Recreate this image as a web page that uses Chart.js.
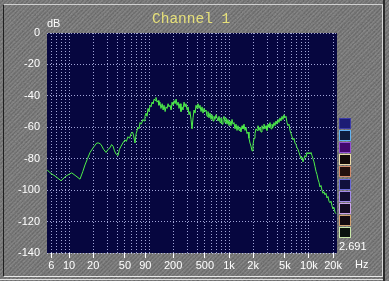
<!DOCTYPE html>
<html>
<head>
<meta charset="utf-8">
<script src="https://cdn.jsdelivr.net/npm/chart.js@4.4.0/dist/chart.umd.min.js"></script>
<style>
  html, body { margin: 0; padding: 0; }
  body {
    width: 389px; height: 281px; overflow: hidden; position: relative;
    background-color: #6b6b6b;
    background-image:
      url("data:image/svg+xml,%3Csvg xmlns='http://www.w3.org/2000/svg' width='389' height='281'%3E%3Cfilter id='n'%3E%3CfeTurbulence type='fractalNoise' baseFrequency='0.85' numOctaves='2' stitchTiles='stitch'/%3E%3CfeColorMatrix type='saturate' values='0'/%3E%3C/filter%3E%3Crect width='100%25' height='100%25' filter='url(%23n)' opacity='0.28'/%3E%3C/svg%3E"),
      repeating-linear-gradient(135deg, rgba(255,255,255,0.10) 0px, rgba(255,255,255,0.10) 1px, rgba(0,0,0,0.08) 2px, rgba(0,0,0,0) 3px),
      repeating-linear-gradient(45deg, rgba(0,0,0,0.05) 0px, rgba(0,0,0,0.05) 1px, rgba(255,255,255,0) 2px, rgba(255,255,255,0) 4px);
    font-family: "Liberation Sans", Arial, sans-serif;
  }
  #wrap { position: absolute; left: 0; top: 0; width: 389px; height: 281px; }
  .frame { position: absolute; left: 3px; top: 4px; width: 378px; height: 271px;
    border-top: 1px solid #cfcfcf; border-left: 1px solid #1e1e1e;
    border-right: 1px solid #d8d8d8; border-bottom: 1px solid #e8e8e8; pointer-events: none; }
  .line-b { position: absolute; left: 0; top: 279px; width: 384px; height: 1px; background: #e0e0e0; }
  .line-r { position: absolute; left: 383px; top: 0; width: 2px; height: 281px; background: #2a2a2a; }
  .label { position: absolute; color: #ffffff; font-size: 11px; line-height: 12px; white-space: nowrap; }
  #title { position: absolute; left: 152px; top: 11px; color: #e6e07a;
    font-family: "Liberation Mono", "DejaVu Sans Mono", monospace; font-size: 14.5px; line-height: 16px; }
  .box { position: absolute; left: 339px; width: 10px; height: 9px; border: 1px solid; }
</style>
</head>
<body>
<div id="wrap"><canvas id="spectrum" width="389" height="281"></canvas></div>
<div class="frame"></div>
<div class="line-b"></div>
<div class="line-r"></div>
<div id="title">Channel 1</div>
<div class="label" style="left:47px; top:17px;">dB</div>
<div class="label" style="left:355px; top:258px;">Hz</div>
<div class="label" style="left:339px; top:240px;">2.691</div>
<div id="boxes"></div>
<script>
  // spectrum (frequency in Hz, level in dB)
  const freqs = [
    5.31, 5.79, 6.68, 7.94, 9.17, 10.8, 12.2, 13.7, 14.9, 15.8,
    17.0, 18.3, 20.0, 22.2, 23.6, 25.1, 27.0, 29.0, 30.8, 32.6,
    34.0, 35.5, 37.0, 38.7, 41.0, 42.7, 44.7, 47.0, 50.1, 52.0,
    54.6, 57.0, 59.6, 62.0, 64.0, 66.8, 69.0, 72.9, 75.0, 77.2,
    80.0, 84.1, 87.0, 89.0, 91.7, 94.4, 97.2, 100, 103, 106,
    109, 112, 116, 119, 122, 126, 130, 133, 137, 141,
    146, 150, 154, 159, 163, 168, 173, 178, 183, 189,
    194, 200, 206, 212, 218, 224, 231, 237, 244, 251,
    259, 266, 274, 282, 290, 299, 307, 316, 325, 335,
    345, 355, 365, 376, 387, 398, 410, 422, 434, 447,
    460, 473, 487, 501, 516, 531, 546, 562, 579, 596,
    613, 631, 649, 668, 688, 729, 750, 772, 794, 818,
    841, 866, 891, 917, 944, 972, 1000, 1029, 1059, 1090,
    1122, 1155, 1189, 1223, 1259, 1296, 1334, 1372, 1413, 1454,
    1496, 1540, 1585, 1632, 1679, 1728, 1778, 1830, 1884, 1939,
    1995, 2054, 2113, 2175, 2239, 2304, 2371, 2441, 2512, 2585,
    2661, 2738, 2818, 2901, 2985, 3073, 3162, 3254, 3350, 3447,
    3548, 3652, 3758, 3868, 3981, 4097, 4217, 4339, 4467, 4597,
    4732, 4870, 5012, 5158, 5309, 5464, 5623, 5788, 5957, 6131,
    6310, 6494, 6683, 6879, 7079, 7286, 7499, 7720, 7943, 8177,
    8414, 8660, 8913, 9173, 9441, 9716, 10000, 10292, 10593, 10902,
    11220, 11548, 11885, 12232, 12589, 12957, 13335, 13725, 14125, 14538,
    14962, 15399, 15849, 16312, 16788, 17278, 17783, 18302, 18836, 19387,
    19953, 20535, 21135, 21752
  ];
  const levels = [
    -87, -89, -91, -94, -91, -89, -91, -93, -88, -84,
    -80, -76, -73, -70, -70, -71, -74, -76, -74, -73,
    -71, -72, -75, -77, -78, -74, -72, -70, -68, -69,
    -66, -67, -64, -63, -65, -70, -64, -60, -61, -57,
    -58, -55, -56, -53, -51, -53, -48, -50, -46, -47,
    -44, -45, -42, -43, -41, -44, -43, -46, -44, -48,
    -45, -49, -46, -50, -47, -48, -45, -47, -46, -49,
    -44, -46, -43, -45, -42, -46, -44, -48, -45, -50,
    -47, -49, -44, -47, -45, -49, -47, -52, -50, -55,
    -61, -54, -49, -51, -46, -48, -45, -48, -46, -50,
    -47, -51, -48, -50, -49, -53, -50, -54, -51, -55,
    -52, -56, -53, -55, -52, -56, -53, -57, -54, -58,
    -55, -53, -57, -54, -58, -55, -59, -56, -59, -55,
    -58, -57, -61, -58, -62, -59, -62, -60, -63, -59,
    -61, -58, -62, -60, -64, -63, -67, -70, -72, -75,
    -71, -67, -64, -61, -62, -59, -62, -60, -63, -59,
    -61, -58, -61, -59, -62, -58, -60, -57, -61, -58,
    -60, -57, -59, -56, -58, -55, -57, -54, -56, -53,
    -55, -52, -54, -53, -57, -59, -58, -62, -64, -66,
    -68, -67, -70, -71, -73, -74, -76, -78, -80, -79,
    -82, -80, -78, -79, -76, -77, -76, -77, -76, -78,
    -80, -82, -85, -88, -90, -93, -95, -98, -97, -100,
    -102, -101, -103, -102, -105, -104, -107, -108, -107, -110,
    -112, -111, -114, -115
  ];

  const gridFreqs = [
    6, 7, 8, 9, 10, 20, 30, 40, 50, 60, 70, 80, 90, 100,
    200, 300, 400, 500, 600, 700, 800, 900, 1000,
    2000, 3000, 4000, 5000, 6000, 7000, 8000, 9000, 10000, 20000
  ];
  const tickValues = [6, 10, 20, 50, 90, 200, 500, 1000, 2000, 5000, 10000, 20000];
  const tickLabels = ["6", "10", "20", "50", "90", "200", "500", "1k", "2k", "5k", "10k", "20k"];

  const boxBorders = ["#3c3ca8", "#62b2f2", "#9452d4", "#eadaaa", "#d28c6c", "#6a6ad8", "#a28ae8", "#caa2ea", "#d2a272", "#cae8aa"];
  const boxFills = ["#1c1c74", "#0e1c3c", "#42076e", "#120a08", "#22100e", "#10103c", "#100c30", "#120a22", "#120a10", "#0a120e"];

  const boxWrap = document.getElementById("boxes");
  boxBorders.forEach((c, i) => {
    const d = document.createElement("div");
    d.className = "box";
    d.style.top = (118 + i * 12.1).toFixed(1) + "px";
    d.style.borderColor = c;
    d.style.background = boxFills[i];
    boxWrap.appendChild(d);
  });

  const plotBg = {
    id: "plotBg",
    beforeDraw(chart) {
      const { ctx, chartArea: a } = chart;
      ctx.save();
      ctx.fillStyle = "#06063f";
      ctx.fillRect(a.left, a.top, a.right - a.left, a.bottom - a.top);
      ctx.restore();
    }
  };

  const gridColor = "rgba(200, 205, 255, 0.8)";

  new Chart(document.getElementById("spectrum"), {
    type: "line",
    data: {
      datasets: [{
        data: freqs.map((f, i) => ({ x: f, y: levels[i] })),
        borderColor: "#4ef04a",
        borderWidth: 1,
        pointRadius: 0,
        tension: 0,
        fill: false
      }]
    },
    options: {
      responsive: false,
      animation: false,
      devicePixelRatio: 1,
      layout: { padding: { top: 33, right: 52, bottom: 0, left: 0 } },
      plugins: { legend: { display: false }, tooltip: { enabled: false }, title: { display: false } },
      scales: {
        x: {
          type: "logarithmic",
          min: 5.3,
          max: 22400,
          afterBuildTicks(scale) {
            scale.ticks = gridFreqs.map((v) => ({ value: v }));
          },
          afterFit(scale) { scale.height = 28; },
          border: { display: false, dash: [1, 2] },
          grid: {
            color: gridColor,
            lineWidth: 1,
            drawTicks: true,
            tickLength: 5,
            tickBorderDash: [],
            tickColor(ctx) {
              return ctx.tick && tickValues.includes(ctx.tick.value) ? "#ffffff" : "rgba(0,0,0,0)";
            }
          },
          ticks: {
            autoSkip: false,
            maxRotation: 0,
            padding: 1,
            color: "#ffffff",
            font: { family: "'Liberation Sans', Arial, sans-serif", size: 11 },
            callback(value) {
              const i = tickValues.indexOf(value);
              return i >= 0 ? tickLabels[i] : "";
            }
          }
        },
        y: {
          min: -140,
          max: 0,
          afterFit(scale) { scale.width = 47; },
          border: { display: false, dash: [1, 2] },
          grid: { color: gridColor, lineWidth: 1, drawTicks: false },
          ticks: {
            stepSize: 10,
            padding: 7,
            color: "#ffffff",
            font: { family: "'Liberation Sans', Arial, sans-serif", size: 11 },
            callback(value) {
              return value % 20 === 0 ? String(value) : "";
            }
          }
        }
      }
    },
    plugins: [plotBg]
  });
</script>
</body>
</html>
